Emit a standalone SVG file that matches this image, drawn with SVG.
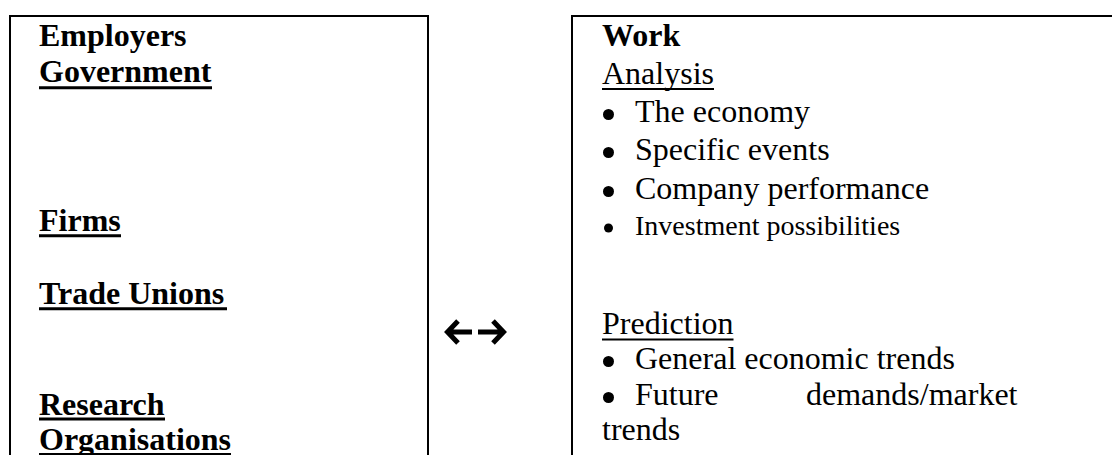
<svg xmlns="http://www.w3.org/2000/svg" width="1112" height="455" viewBox="0 0 1112 455">
<style>
.box{fill:#fff;stroke:#000;stroke-width:2}
.b{font-family:"Liberation Serif","Times New Roman",serif;font-weight:bold;font-size:32px;fill:#000}
.r{font-family:"Liberation Serif","Times New Roman",serif;font-size:32px;fill:#000}
.s{font-family:"Liberation Serif","Times New Roman",serif;font-size:28px;fill:#000}
.ub{stroke:#000;stroke-width:3}
.ur{stroke:#000;stroke-width:2}
.arr{fill:none;stroke:#000;stroke-width:5;stroke-linejoin:miter;stroke-linecap:butt}
</style>
<rect width="1112" height="455" fill="#fff"/>
<g id="employers">
<rect class="box" x="10" y="16" width="418" height="470"/>
<text class="b" x="39" y="46">Employers</text>
<text class="b" x="39" y="82">Government</text>
<line class="ub" x1="39" y1="87.7" x2="212" y2="87.7"/>
<text class="b" x="39" y="231">Firms</text>
<line class="ub" x1="39" y1="235.7" x2="121" y2="235.7"/>
<text class="b" x="39" y="304">Trade Unions</text>
<line class="ub" x1="39" y1="308.7" x2="227" y2="308.7"/>
<text class="b" x="39" y="414.5">Research</text>
<line class="ub" x1="39" y1="419" x2="165" y2="419"/>
<text class="b" x="39" y="450">Organisations</text>
<line class="ub" x1="39" y1="454.5" x2="231" y2="454.5"/>
</g>
<g id="work">
<rect class="box" x="572" y="16" width="600" height="470"/>
<text class="b" x="602" y="46">Work</text>
<text class="r" x="602" y="84">Analysis</text>
<line class="ur" x1="602" y1="89" x2="714" y2="89"/>
<circle cx="608.5" cy="114.5" r="5.5"/>
<text class="r" x="635" y="122">The economy</text>
<circle cx="608.5" cy="152.5" r="5.5"/>
<text class="r" x="635" y="160">Specific events</text>
<circle cx="608.5" cy="191.5" r="5.5"/>
<text class="r" x="635" y="199">Company performance</text>
<circle cx="608.5" cy="228" r="4.5"/>
<text class="s" x="635" y="234.5">Investment possibilities</text>
<text class="r" x="602" y="334">Prediction</text>
<line class="ur" x1="602" y1="339.5" x2="733.5" y2="339.5"/>
<circle cx="608.5" cy="361.5" r="5.5"/>
<text class="r" x="635" y="369">General economic trends</text>
<circle cx="608.5" cy="397.5" r="5.5"/>
<text class="r" x="635" y="405">Future</text>
<text class="r" x="806" y="405">demands/market</text>
<text class="r" x="602" y="440">trends</text>
</g>
<g id="connectors">
<path class="arr" d="M458,321 L447.5,332 L458,343 M448,332 L472,332"/>
<path class="arr" d="M493,321 L503.5,332 L493,343 M478,332 L503,332"/>
</g>
</svg>
